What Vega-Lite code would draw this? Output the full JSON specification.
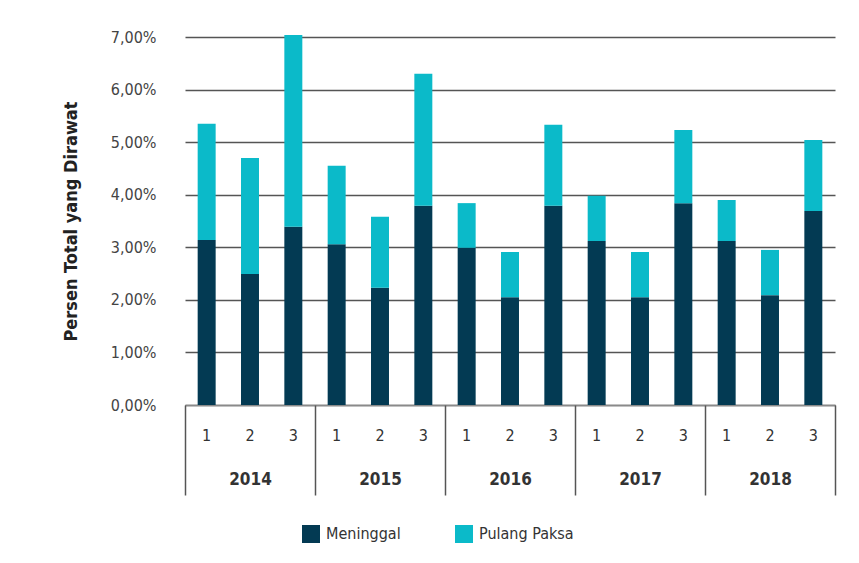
{
  "$schema": "https://vega.github.io/schema/vega-lite/v6.json",
  "width": 650,
  "height": 368,
  "autosize": {"type": "none"},
  "padding": {"left": 185, "top": 37, "right": 24, "bottom": 158},
  "background": "white",
  "config": {"font": "Liberation Sans Narrow, DejaVu Sans Condensed, Roboto, sans-serif", "view": {"stroke": null}},
  "data": {"values": [
    {"year": "2014", "period": "2014-1", "status": "Meninggal", "value": 3.14},
    {"year": "2014", "period": "2014-1", "status": "Pulang Paksa", "value": 2.21},
    {"year": "2014", "period": "2014-2", "status": "Meninggal", "value": 2.49},
    {"year": "2014", "period": "2014-2", "status": "Pulang Paksa", "value": 2.21},
    {"year": "2014", "period": "2014-3", "status": "Meninggal", "value": 3.39},
    {"year": "2014", "period": "2014-3", "status": "Pulang Paksa", "value": 3.65},
    {"year": "2015", "period": "2015-1", "status": "Meninggal", "value": 3.06},
    {"year": "2015", "period": "2015-1", "status": "Pulang Paksa", "value": 1.49},
    {"year": "2015", "period": "2015-2", "status": "Meninggal", "value": 2.23},
    {"year": "2015", "period": "2015-2", "status": "Pulang Paksa", "value": 1.35},
    {"year": "2015", "period": "2015-3", "status": "Meninggal", "value": 3.79},
    {"year": "2015", "period": "2015-3", "status": "Pulang Paksa", "value": 2.51},
    {"year": "2016", "period": "2016-1", "status": "Meninggal", "value": 2.99},
    {"year": "2016", "period": "2016-1", "status": "Pulang Paksa", "value": 0.85},
    {"year": "2016", "period": "2016-2", "status": "Meninggal", "value": 2.05},
    {"year": "2016", "period": "2016-2", "status": "Pulang Paksa", "value": 0.86},
    {"year": "2016", "period": "2016-3", "status": "Meninggal", "value": 3.79},
    {"year": "2016", "period": "2016-3", "status": "Pulang Paksa", "value": 1.54},
    {"year": "2017", "period": "2017-1", "status": "Meninggal", "value": 3.12},
    {"year": "2017", "period": "2017-1", "status": "Pulang Paksa", "value": 0.86},
    {"year": "2017", "period": "2017-2", "status": "Meninggal", "value": 2.05},
    {"year": "2017", "period": "2017-2", "status": "Pulang Paksa", "value": 0.86},
    {"year": "2017", "period": "2017-3", "status": "Meninggal", "value": 3.84},
    {"year": "2017", "period": "2017-3", "status": "Pulang Paksa", "value": 1.39},
    {"year": "2018", "period": "2018-1", "status": "Meninggal", "value": 3.12},
    {"year": "2018", "period": "2018-1", "status": "Pulang Paksa", "value": 0.78},
    {"year": "2018", "period": "2018-2", "status": "Meninggal", "value": 2.09},
    {"year": "2018", "period": "2018-2", "status": "Pulang Paksa", "value": 0.86},
    {"year": "2018", "period": "2018-3", "status": "Meninggal", "value": 3.69},
    {"year": "2018", "period": "2018-3", "status": "Pulang Paksa", "value": 1.35}
  ]},
  "layer": [
    {
      "mark": {"type": "bar"},
      "encoding": {
        "x": {
          "field": "period", "type": "nominal", "sort": null,
          "scale": {"paddingInner": 0.585, "paddingOuter": 0.2925},
          "axis": {"title": null, "labelExpr": "split(datum.value, '-')[1]", "labelAngle": 0, "ticks": false, "domain": true, "domainColor": "#8a8a8a", "domainWidth": 1.5, "labelPadding": 22, "labelFontSize": 16, "labelColor": "#333333", "grid": false}
        },
        "y": {
          "field": "value", "type": "quantitative", "stack": "zero",
          "scale": {"domain": [0, 7]},
          "axis": {"title": "Persen Total yang Dirawat", "values": [0, 1, 2, 3, 4, 5, 6, 7], "labelExpr": "replace(format(datum.value, '.2f'), '.', ',') + '%'", "grid": true, "gridColor": "#555555", "gridWidth": 1.5, "domain": false, "ticks": false, "labelPadding": 29, "labelFontSize": 16, "labelColor": "#444444", "titleFontSize": 18, "titleFontWeight": "bold", "titleColor": "#222222", "titlePadding": 30}
        },
        "color": {
          "field": "status", "type": "nominal",
          "scale": {"domain": ["Meninggal", "Pulang Paksa"], "range": ["#033a53", "#0bbac9"]},
          "legend": {"orient": "none", "legendX": 117, "legendY": 488, "direction": "horizontal", "title": null, "symbolType": "square", "symbolSize": 324, "symbolStrokeWidth": 0, "labelFontSize": 16, "labelColor": "#333333", "columnPadding": 54, "labelOffset": 6, "padding": 0}
        },
        "order": {"field": "status", "sort": "ascending"}
      }
    },
    {
      "mark": {"type": "point", "opacity": 0},
      "encoding": {
        "x": {
          "field": "year", "type": "nominal",
          "scale": {"type": "band", "padding": 0},
          "axis": {"orient": "bottom", "title": null, "labelAngle": 0, "tickBand": "extent", "tickSize": 90, "tickColor": "#555555", "tickWidth": 1.5, "domain": false, "labelPadding": -24, "labelFontSize": 17, "labelFontWeight": "bold", "labelColor": "#333333", "grid": false}
        }
      }
    }
  ],
  "resolve": {"scale": {"x": "independent"}, "axis": {"x": "independent"}}
}
